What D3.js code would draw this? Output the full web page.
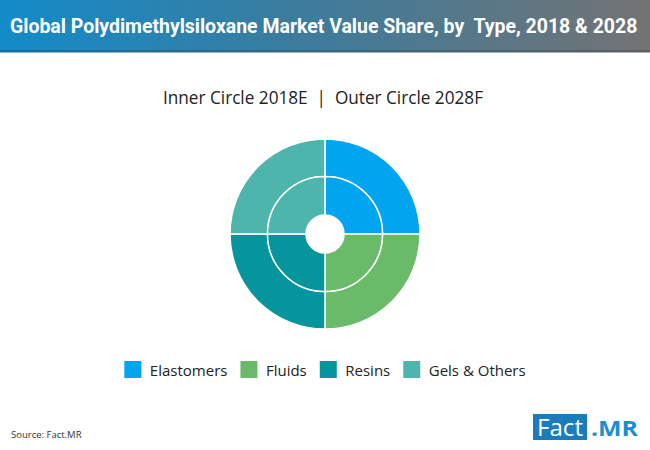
<!DOCTYPE html>
<html>
<head>
<meta charset="utf-8">
<script src="https://cdn.jsdelivr.net/npm/d3@7"></script>
<style>
  html, body { margin: 0; padding: 0; background: #fff; }
  svg { display: block; }
</style>
</head>
<body>
<svg id="chart" width="650" height="450"></svg>
<script>
// ---- data ----
const categories = ["Elastomers", "Fluids", "Resins", "Gels & Others"];
const colors = ["#00a4ef", "#69bb6a", "#06949d", "#4db5ab"];
const inner2018E = [25, 25, 25, 25];
const outer2028F = [25, 25, 25, 25];
const titleText = "Global Polydimethylsiloxane Market Value Share, by  Type, 2018 & 2028";
const subtitleText = "Inner Circle 2018E  |  Outer Circle 2028F";
const sourceText = "Source: Fact.MR";

const svg = d3.select("#chart");
const W = 650;

// ---- title bar ----
const defs = svg.append("defs");
const grad = defs.append("linearGradient").attr("id", "tg").attr("x1", "0").attr("x2", "1").attr("y1", "0").attr("y2", "0");
grad.append("stop").attr("offset", "0%").attr("stop-color", "#138bc9");
grad.append("stop").attr("offset", "45%").attr("stop-color", "#3b7c9e");
grad.append("stop").attr("offset", "100%").attr("stop-color", "#737373");
svg.append("rect").attr("x", 0).attr("y", 0).attr("width", W).attr("height", 52).attr("fill", "url(#tg)");
const grad2 = defs.append("linearGradient").attr("id", "tg2").attr("x1", "0").attr("x2", "1");
grad2.append("stop").attr("offset", "0%").attr("stop-color", "#0f6fa3");
grad2.append("stop").attr("offset", "100%").attr("stop-color", "#5e5e5e");
svg.append("rect").attr("x", 0).attr("y", 50).attr("width", W).attr("height", 2.5).attr("fill", "url(#tg2)");
const titleG = svg.append("g");
const titleT = titleG.append("text")
  .attr("x", 0).attr("y", 0)
  .attr("font-family", "Roboto, sans-serif")
  .attr("font-weight", 700)
  .attr("font-size", 20)
  .attr("fill", "#fff")
  .style("white-space", "pre")
  .text(titleText);
const tw = titleT.node().getComputedTextLength();
titleG.attr("transform", `translate(10,33) scale(${628 / tw},1)`);

// ---- subtitle ----
svg.append("text")
  .attr("x", 323).attr("y", 104)
  .attr("text-anchor", "middle")
  .attr("font-family", "'Open Sans', sans-serif")
  .attr("font-size", 17.5)
  .attr("fill", "#222")
  .attr("textLength", 320)
  .attr("lengthAdjust", "spacingAndGlyphs")
  .style("white-space", "pre")
  .text(subtitleText);

// ---- donut ----
const cx = 325, cy = 234;
const rHole = 19, rMid = 57.5, rOuter = 95;
const pie = d3.pie().sort(null).value(d => d);
const g = svg.append("g").attr("transform", `translate(${cx},${cy})`);
const arcInner = d3.arc().innerRadius(rHole).outerRadius(rMid);
const arcOuter = d3.arc().innerRadius(rMid).outerRadius(rOuter);

g.selectAll("path.outer").data(pie(outer2028F)).enter().append("path")
  .attr("class", "outer")
  .attr("d", arcOuter)
  .attr("fill", (d, i) => colors[i])
  .attr("stroke", "#fff").attr("stroke-width", 1.5);
g.selectAll("path.inner").data(pie(inner2018E)).enter().append("path")
  .attr("class", "inner")
  .attr("d", arcInner)
  .attr("fill", (d, i) => colors[i])
  .attr("stroke", "#fff").attr("stroke-width", 1.5);

// ---- legend ----
const leg = svg.append("g");
const sq = 17, gapText = 8.5, gapItem = 13;
let x = 0;
categories.forEach((c, i) => {
  const it = leg.append("g");
  it.append("rect").attr("x", x).attr("y", 361).attr("width", sq).attr("height", sq).attr("fill", colors[i]);
  const t = it.append("text")
    .attr("x", x + sq + gapText).attr("y", 376)
    .attr("font-family", "'Open Sans', sans-serif")
    .attr("font-size", 15)
    .attr("fill", "#222")
    .text(c);
  x += sq + gapText + t.node().getComputedTextLength() + gapItem;
});
const legW = x - gapItem;
leg.attr("transform", `translate(${325 - legW / 2},0)`);

// ---- source ----
svg.append("text")
  .attr("x", 11).attr("y", 438)
  .attr("font-family", "'Open Sans', sans-serif")
  .attr("font-size", 9.5)
  .attr("fill", "#333")
  .text(sourceText);

// ---- logo ----
svg.append("rect").attr("x", 533).attr("y", 414).attr("width", 54).attr("height", 26).attr("fill", "#1a7bbd");
svg.append("text")
  .attr("x", 537).attr("y", 436)
  .attr("font-family", "'Open Sans', sans-serif")
  .attr("font-size", 23)
  .attr("fill", "#fff")
  .attr("textLength", 46)
  .attr("lengthAdjust", "spacingAndGlyphs")
  .text("Fact");
svg.append("text")
  .attr("x", 591).attr("y", 436)
  .attr("font-family", "'Open Sans', sans-serif")
  .attr("font-weight", 700)
  .attr("font-size", 22)
  .attr("fill", "#1a8fd0")
  .attr("textLength", 47)
  .attr("lengthAdjust", "spacingAndGlyphs")
  .text(".MR");
</script>
</body>
</html>
